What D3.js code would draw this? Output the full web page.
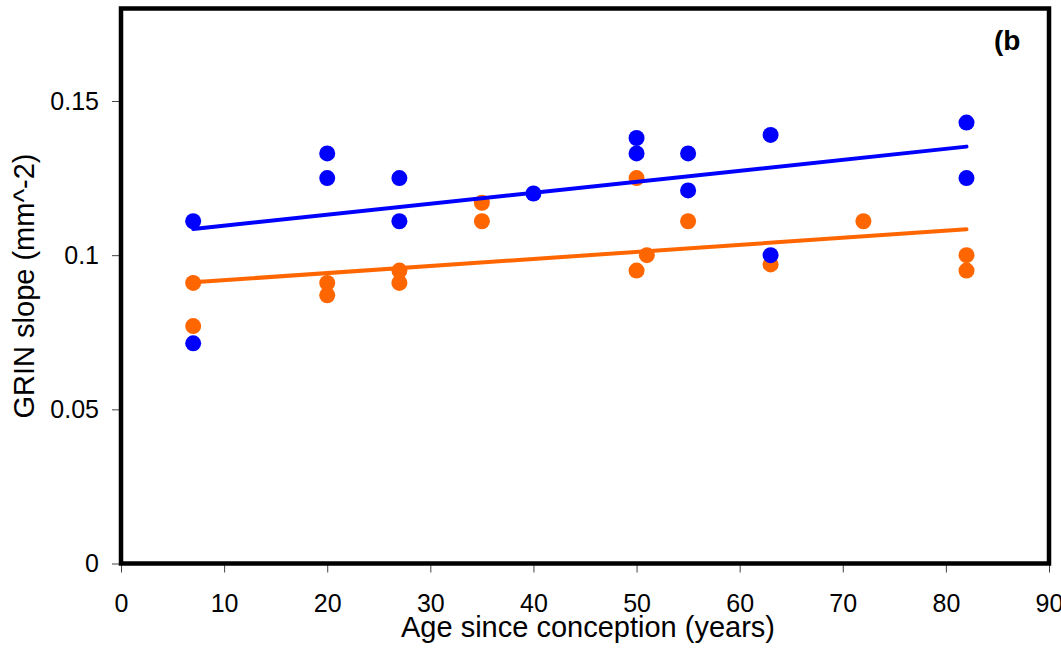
<!DOCTYPE html>
<html>
<head>
<meta charset="utf-8">
<script src="https://cdn.jsdelivr.net/npm/d3@7"></script>
<style>
  html, body { margin: 0; padding: 0; background: #fff; }
  svg { display: block; font-family: "Liberation Sans", Arial, sans-serif; }
</style>
</head>
<body>
<svg id="chart" width="1061" height="655"></svg>
<script>
// Age since conception (years) for each measurement
const blueAge   = [7, 7, 20, 20, 27, 27, 40, 50, 50, 55, 55, 63, 63, 82, 82];
const blueSlope = [0.111, 0.0714, 0.133, 0.125, 0.125, 0.111, 0.120, 0.138, 0.133, 0.133, 0.121, 0.139, 0.100, 0.143, 0.125];

const orangeAge   = [7, 7, 20, 20, 27, 27, 35, 35, 50, 50, 51, 55, 63, 72, 82, 82];
const orangeSlope = [0.091, 0.077, 0.091, 0.087, 0.095, 0.091, 0.117, 0.111, 0.125, 0.095, 0.100, 0.111, 0.097, 0.111, 0.100, 0.095];

// Linear trend lines (end points)
const fitAge    = [7, 82];
const blueFit   = [0.1085, 0.1352];
const orangeFit = [0.0912, 0.1084];

// Axis ticks
const xTicks = [0, 10, 20, 30, 40, 50, 60, 70, 80, 90];
const yTicks = [0, 0.05, 0.1, 0.15];
const yTickLabels = ["0", "0.05", "0.1", "0.15"];

const svg = d3.select("#chart");
const plotLeft = 121, plotRight = 1049, plotTop = 8.5, plotBottom = 563.5;

const x = d3.scaleLinear().domain([0, 90]).range([plotLeft, plotRight]);
const y = d3.scaleLinear().domain([0, 0.18]).range([plotBottom, plotTop]);

// x axis
const xAxis = svg.append("g")
  .attr("transform", `translate(0,${plotBottom})`)
  .call(d3.axisBottom(x).tickValues(xTicks).tickSize(9).tickPadding(22).tickFormat(d3.format("d")));
xAxis.select(".domain").remove();
xAxis.selectAll(".tick line").attr("stroke", "#444").attr("stroke-width", 1);
xAxis.selectAll(".tick text").attr("font-size", 25).attr("fill", "#000")
  .attr("font-family", "'Liberation Sans', Arial, sans-serif");

// y axis
const yAxis = svg.append("g")
  .attr("transform", `translate(${plotLeft},0)`)
  .call(d3.axisLeft(y).tickValues(yTicks).tickSize(9).tickPadding(13)
    .tickFormat((d, i) => yTickLabels[i]));
yAxis.select(".domain").remove();
yAxis.selectAll(".tick line").attr("stroke", "#444").attr("stroke-width", 1);
yAxis.selectAll(".tick text").attr("font-size", 25).attr("fill", "#000")
  .attr("font-family", "'Liberation Sans', Arial, sans-serif");

// plot frame
svg.append("rect")
  .attr("x", plotLeft).attr("y", plotTop)
  .attr("width", plotRight - plotLeft).attr("height", plotBottom - plotTop)
  .attr("fill", "none").attr("stroke", "#000").attr("stroke-width", 4.5);

// points
const r = 8;
svg.append("g").selectAll("circle")
  .data(orangeAge.map((a, i) => [a, orangeSlope[i]]))
  .join("circle")
  .attr("cx", d => x(d[0])).attr("cy", d => y(d[1])).attr("r", r)
  .attr("fill", "#ff6600");

svg.append("g").selectAll("circle")
  .data(blueAge.map((a, i) => [a, blueSlope[i]]))
  .join("circle")
  .attr("cx", d => x(d[0])).attr("cy", d => y(d[1])).attr("r", r)
  .attr("fill", "#0000ff");

// trend lines
const line = d3.line().x(d => x(d[0])).y(d => y(d[1]));
svg.append("path")
  .datum(fitAge.map((a, i) => [a, orangeFit[i]]))
  .attr("d", line).attr("fill", "none")
  .attr("stroke", "#ff6600").attr("stroke-width", 4).attr("stroke-linecap", "round");
svg.append("path")
  .datum(fitAge.map((a, i) => [a, blueFit[i]]))
  .attr("d", line).attr("fill", "none")
  .attr("stroke", "#0000ff").attr("stroke-width", 4).attr("stroke-linecap", "round");

// axis titles
svg.append("text")
  .attr("x", 588).attr("y", 637)
  .attr("text-anchor", "middle").attr("font-size", 29).attr("fill", "#000")
  .text("Age since conception (years)");

svg.append("text")
  .attr("transform", "translate(34,286) rotate(-90)")
  .attr("text-anchor", "middle").attr("font-size", 29).attr("fill", "#000")
  .text("GRIN slope (mm^-2)");

// panel label
svg.append("text")
  .attr("x", 994).attr("y", 50)
  .attr("font-size", 28).attr("font-weight", "bold").attr("fill", "#000")
  .text("(b");
</script>
</body>
</html>
